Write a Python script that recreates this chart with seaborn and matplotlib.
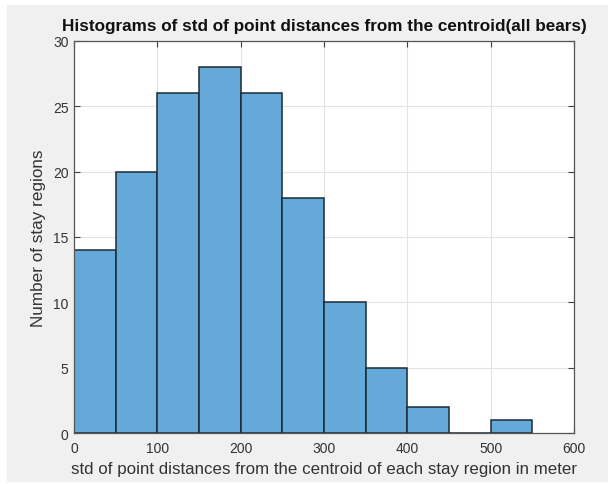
import numpy as np
import pandas as pd
import matplotlib
matplotlib.use("Agg")
import matplotlib.pyplot as plt
import seaborn as sns
from matplotlib.patches import Rectangle

# Histogram counts per 50 m bin
bin_edges = [0, 50, 100, 150, 200, 250, 300, 350, 400, 450, 500, 550]
counts = [14, 20, 26, 28, 26, 18, 10, 5, 2, 0, 1]
x_ticks = [0, 100, 200, 300, 400, 500, 600]
y_ticks = [0, 5, 10, 15, 20, 25, 30]

centers = [(a + b) / 2 for a, b in zip(bin_edges[:-1], bin_edges[1:])]
df = pd.DataFrame({"center": centers, "count": counts})

sns.set_style("white")
plt.rcParams["font.family"] = ["Liberation Sans", "DejaVu Sans"]

fig = plt.figure(figsize=(6.08, 4.85), dpi=100, facecolor="white")
W, H = 608, 485
fig.patches.append(Rectangle((7 / W, 1 - 483 / H), (W - 7) / W, (483 - 6) / H,
                             transform=fig.transFigure, facecolor="#f0f0f0",
                             edgecolor="none", zorder=-10))

ax = fig.add_axes([74 / W, 1 - 434 / H, (574 - 74) / W, (434 - 42) / H])
ax.set_zorder(1)
ax.set_facecolor("white")

sns.histplot(data=df, x="center", weights="count", bins=bin_edges, ax=ax,
             color="#64a9d8", alpha=1.0, edgecolor="#1c2b36", linewidth=1.1)

ax.set_xlim(0, 600)
ax.set_ylim(0, 30)
ax.set_xticks(x_ticks)
ax.set_yticks(y_ticks)
ax.grid(True, color="#e3e3e3", linewidth=0.8)
ax.set_axisbelow(True)
ax.tick_params(direction="in", length=4, width=0.8, color="#404040",
               labelcolor="#333333", labelsize=10, top=True, right=True,
               bottom=True, left=True)
ax.tick_params(axis="x", pad=6)
ax.tick_params(axis="y", pad=4)
for s in ax.spines.values():
    s.set_color("#555555")
    s.set_linewidth(0.9)

ax.set_xlabel("std of point distances from the centroid of each stay region in meter",
              fontsize=12.2, color="#333333", labelpad=4)
ax.set_ylabel("Number of stay regions", fontsize=12.3, color="#333333", labelpad=5)
ax.set_title("Histograms of std of point distances from the centroid(all bears)",
             fontsize=12.3, fontweight="bold", color="#111111", pad=8)

fig.savefig("out.png", dpi=100, facecolor=fig.get_facecolor())
